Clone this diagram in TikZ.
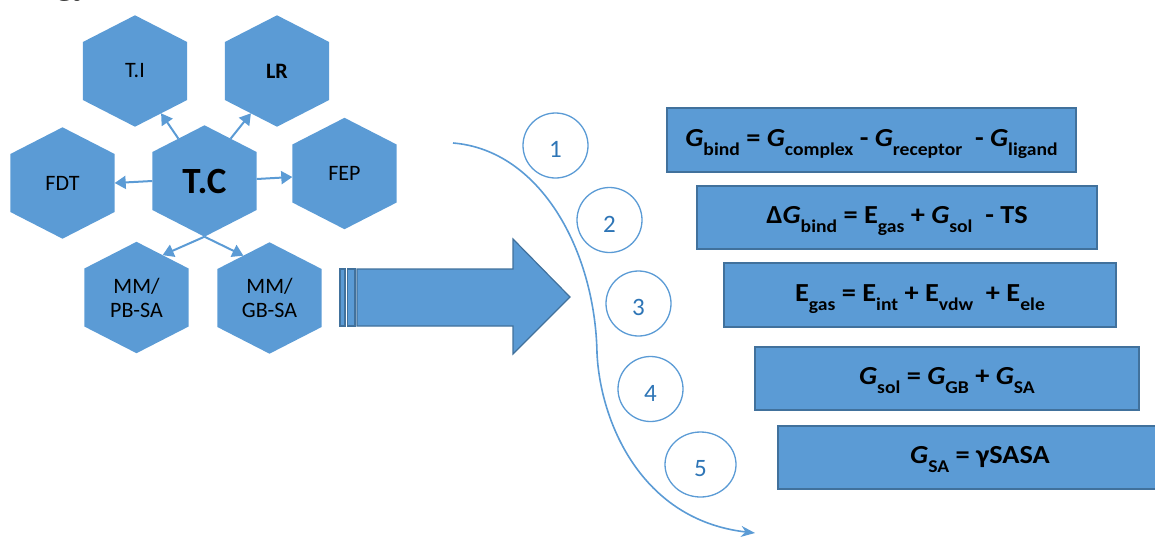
\documentclass[tikz,border=0pt]{standalone}
\usepackage{fontspec}
\setmainfont{Carlito}
\newfontfamily\docserif{Liberation Serif}
\usetikzlibrary{calc,arrows.meta,shapes.geometric,backgrounds}

\definecolor{hexblue}{HTML}{5B9BD5}
\definecolor{edgeblue}{HTML}{41719C}
\definecolor{numblue}{HTML}{2E75B6}

% lowered, smaller subscript used inside the equation boxes
\newcommand\eqsub[1]{\raisebox{-9pt}{\fontsize{18}{18}\selectfont #1}}
\newcommand\symG{\textit{G}}
% equations are set slightly widened
\newcommand\widen[1]{\scalebox{1.09}[1]{#1}}

\tikzset{
  hexnode/.style={rectangle, minimum width=104pt, minimum height=111pt,
    inner sep=0pt, align=center, font=\fontsize{22}{24}\selectfont},
  hexfill/.style={fill=hexblue},
  link/.style={draw=hexblue, line width=2pt, -{Triangle[length=11pt,width=13pt]}},
  stepnum/.style={ellipse, draw=hexblue, line width=1.3pt, minimum width=65pt,
    minimum height=65pt, inner sep=0pt, text=numblue, text height=24pt,
    text depth=0pt, font=\fontsize{25}{25}\selectfont},
  eqbox/.style={rectangle, fill=hexblue, draw=edgeblue, line width=2pt,
    minimum height=63pt, inner sep=0pt, text height=20pt, text depth=8pt,
    font=\bfseries\fontsize{26}{30}\selectfont},
  blockarrow/.style={fill=hexblue, draw=edgeblue, line width=1.2pt, line join=miter},
  flow/.style={draw=hexblue, line width=1.6pt, -{Stealth[length=14pt,width=11pt]}}
}

\begin{document}
\begin{tikzpicture}[x=1pt,y=-1pt]
\useasboundingbox (0,0) rectangle (1155,536);
\clip (0,0) rectangle (1155,536);

% running heading at the top edge
\node[font=\docserif\fontsize{36}{36}\selectfont, anchor=base east, inner sep=0pt]
  (heading) at (92,-7) {ology};

% technique hexagons
\node[hexnode] (ti) at (135,71) {T.I};
\node[hexnode] (lr) at (277,71) {\bfseries LR};
\node[hexnode, font=\bfseries\fontsize{37}{37}\selectfont] (tc) at (204.5,181) {T.C};
\node[hexnode] (fdt) at (62.5,183) {FDT};
\node[hexnode] (fep) at (344.5,173.5) {FEP};
\node[hexnode] (pb) at (136.5,297.5) {MM/\\PB-SA};
\node[hexnode] (gb) at (269.5,298) {MM/\\GB-SA};

\foreach \n in {ti,lr,tc,fdt,fep,pb,gb}{
  \coordinate (\n-ne) at ($(\n.north east)!0.24!(\n.south east)$);
  \coordinate (\n-se) at ($(\n.north east)!0.76!(\n.south east)$);
  \coordinate (\n-sw) at ($(\n.north west)!0.76!(\n.south west)$);
  \coordinate (\n-nw) at ($(\n.north west)!0.24!(\n.south west)$);
}
\begin{pgfonlayer}{background}
  \foreach \n in {ti,lr,tc,fdt,fep,pb,gb}
    \fill[hexfill] (\n.north) -- (\n-ne) -- (\n-se) -- (\n.south)
      -- (\n-sw) -- (\n-nw) -- cycle;
\end{pgfonlayer}

% links out of the central hexagon
\draw[link] ($(tc.north)!0.5!(tc-nw)$) -- ($(ti.south)!0.5!(ti-se)$);
\draw[link] ($(tc.north)!0.5!(tc-ne)$) -- ($(lr.south)!0.5!(lr-sw)$);
\draw[link] (tc.west) -- (fdt.east);
\draw[link] ($(tc.east)+(0,-2)$) -- ($(fep.west)+(0,3.5)$);
\draw[link] (tc.south) -- ($(pb.north)!0.5!(pb-ne)$);
\draw[link] (tc.south) -- ($(gb.north)!0.5!(gb-nw)$);

% striped block arrow
\path[blockarrow] (357,269) -- (513,269) -- (513,239) -- (570,297)
  -- (513,354) -- (513,326) -- (357,326) -- cycle;
\path[blockarrow] (340,269) rectangle (345,326);
\path[blockarrow] (347.5,269) rectangle (355,326);

% sweeping curve past the numbered steps
\coordinate (sweepstart) at (453,143);
\coordinate (sweepmid) at (597,353);
\coordinate (sweepend) at (755,533);
\draw[flow] (sweepstart) .. controls (540,150) and (595,250) .. (sweepmid)
  .. controls (600,420) and (640,520) .. (sweepend);

% step numbers
\node[stepnum] (s1) at (555.5,145.5) {1};
\node[stepnum] (s2) at (609.5,220) {2};
\node[stepnum] (s3) at (638.5,303.5) {3};
\node[stepnum] (s4) at (650.5,389) {4};
\node[stepnum, minimum width=71pt] (s5) at (700.5,464.5) {5};

% equations
\node[eqbox, minimum width=409pt, minimum height=64pt] (e1) at (871.5,140)
  {\widen{\symG\eqsub{bind} = \symG\eqsub{complex} - \symG\eqsub{receptor}\ \ - \symG\eqsub{ligand}}};
\node[eqbox, minimum width=400pt] (e2) at (897,217.5)
  {\widen{Δ\symG\eqsub{bind} = E\eqsub{gas} + \symG\eqsub{sol}\ \ - TS}};
\node[eqbox, minimum width=392pt, minimum height=64pt] (e3) at (920,295)
  {\widen{E\eqsub{gas} = E\eqsub{int} + E\eqsub{vdw}\ \ + E\eqsub{ele}}};
\node[eqbox, minimum width=384pt] (e4) at (947,378.5)
  {\widen{\symG\eqsub{sol} = \symG\eqsub{GB} + \symG\eqsub{SA}}};
\node[eqbox, minimum width=404pt] (e5) at (980,457.5)
  {\widen{\symG\eqsub{SA} = γSASA}};
\end{tikzpicture}
\end{document}
